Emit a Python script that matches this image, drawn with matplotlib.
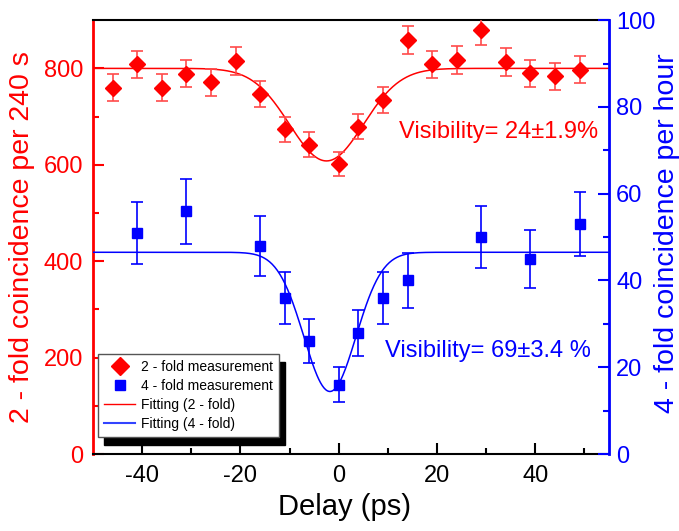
import numpy as np
import matplotlib
matplotlib.use('Agg')
import matplotlib.pyplot as plt
from matplotlib.lines import Line2D

plt.rcParams['font.family'] = ['Liberation Sans', 'DejaVu Sans']
plt.rcParams['axes.unicode_minus'] = False

# 2-fold coincidences, counts per 240 s
delay_2f = [-46, -41, -36, -31, -26, -21, -16, -11, -6, 0, 4, 9, 14, 19, 24, 29, 34, 39, 44, 49]
counts_2f = [760, 809, 760, 789, 771, 815, 746, 674, 642, 602, 679, 735, 859, 809, 817, 879, 813, 790, 784, 797]
err_2f = [28, 28, 28, 28, 28, 29, 27, 26, 25, 25, 26, 27, 29, 28, 29, 30, 29, 28, 28, 28]

# 4-fold coincidences, counts per hour
delay_4f = [-41, -31, -16, -11, -6, 0, 4, 9, 14, 29, 39, 49]
counts_4f = [51, 56, 48, 36, 26, 16, 28, 36, 40, 50, 45, 53]
err_4f = [7.1, 7.5, 6.9, 6.0, 5.1, 4.0, 5.3, 6.0, 6.3, 7.1, 6.7, 7.3]

# gaussian dip fits: baseline, visibility, centre (ps), sigma (ps), visibility error (%)
fit_2f = (800, 0.24, -2.5, 7.5, 1.9)
fit_4f = (46.5, 0.69, -1.8, 5.3, 3.4)


def dip(t, base, vis, t0, sigma):
    return base * (1 - vis * np.exp(-(t - t0) ** 2 / (2 * sigma ** 2)))


fig = plt.figure(figsize=(6.79, 5.31), dpi=100)
ax = fig.add_axes([0.137, 0.145, 0.76, 0.817])
ax2 = ax.twinx()

t = np.linspace(-50, 55, 600)

ax.errorbar(delay_2f, counts_2f, yerr=err_2f, fmt='D', color='red', ms=8,
            ecolor='#ff4a4a', elinewidth=1.2, capsize=4, capthick=1.2, zorder=3)
ax.plot(t, dip(t, *fit_2f[:4]), color='red', lw=1.1, zorder=2)

ax2.errorbar(delay_4f, counts_4f, yerr=err_4f, fmt='s', color='blue', ms=7,
             ecolor='blue', elinewidth=1.2, capsize=4, capthick=1.2, zorder=3)
ax2.plot(t, dip(t, *fit_4f[:4]), color='blue', lw=1.1, zorder=2)

ax.set_xlim(-50, 55)
ax.set_ylim(0, 900)
ax2.set_ylim(0, 100)

ax.set_xticks([-40, -20, 0, 20, 40])
ax.set_xticks([-30, -10, 10, 30, 50], minor=True)
ax.set_yticks([0, 200, 400, 600, 800])
ax.set_yticks([100, 300, 500, 700], minor=True)
ax2.set_yticks([0, 20, 40, 60, 80, 100])
ax2.set_yticks([10, 30, 50, 70, 90], minor=True)

ax.tick_params(which='both', direction='in', labelsize=17, width=1.5, top=False, right=False)
ax.tick_params(which='major', length=8)
ax.tick_params(which='minor', length=4)
ax.tick_params(axis='x', which='major', pad=8)
ax.tick_params(axis='y', which='both', colors='red', pad=7)
ax2.tick_params(which='both', direction='in', labelsize=17, width=1.5, colors='blue', pad=5)
ax2.tick_params(which='major', length=8)
ax2.tick_params(which='minor', length=4)

for side in ['top', 'bottom']:
    ax.spines[side].set_linewidth(1.5)
    ax2.spines[side].set_visible(False)
ax.spines['left'].set_color('red')
ax.spines['left'].set_linewidth(2)
ax.spines['right'].set_visible(False)
ax2.spines['left'].set_visible(False)
ax2.spines['right'].set_color('blue')
ax2.spines['right'].set_linewidth(2)

ax.set_xlabel('Delay (ps)', fontsize=21)
ax.xaxis.set_label_coords(0.487, -0.09)
ax.set_ylabel('2 - fold coincidence per 240 s', fontsize=20.5, color='red')
ax.yaxis.set_label_coords(-0.112, 0.5)
ax2.set_ylabel('4 - fold coincidence per hour', fontsize=20.5, color='blue')
ax2.yaxis.set_label_coords(1.087, 0.51)

ax.text(32.5, 669, f'Visibility= {fit_2f[1] * 100:.0f}\u00b1{fit_2f[4]}%',
        color='red', fontsize=17, ha='center', va='center')
ax2.text(30.3, 23.7, f'Visibility= {fit_4f[1] * 100:.0f}\u00b1{fit_4f[4]} %',
         color='blue', fontsize=17, ha='center', va='center')

handles = [
    Line2D([], [], marker='D', color='red', ls='none', ms=9),
    Line2D([], [], marker='s', color='blue', ls='none', ms=7),
    Line2D([], [], color='red', lw=1),
    Line2D([], [], color='#3344ff', lw=1.5),
]
labels = ['2 - fold measurement', '4 - fold measurement', 'Fitting (2 - fold)', 'Fitting (4 - fold)']
leg = ax2.legend(handles, labels, loc='lower left', bbox_to_anchor=(0.01, 0.039),
                 borderaxespad=0, fontsize=10, fancybox=False, framealpha=1,
                 edgecolor='#555555', handlelength=2.2, handletextpad=0.4,
                 labelspacing=0.35, borderpad=0.45,
                 shadow={'color': 'black', 'alpha': 1, 'ox': 4.5, 'oy': -6})
leg.get_frame().set_linewidth(1)

fig.savefig('out.png', dpi=100)
